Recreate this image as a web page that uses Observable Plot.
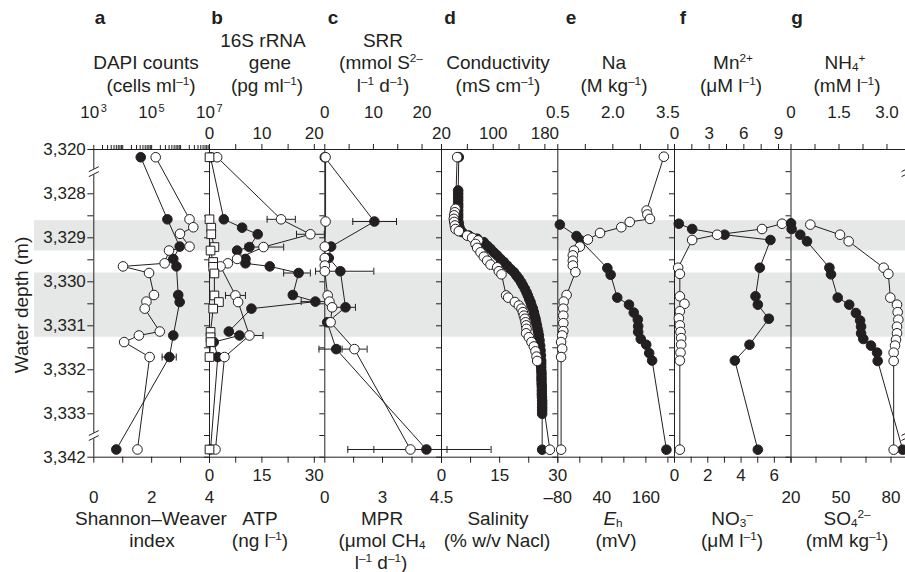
<!DOCTYPE html>
<html>
<head>
<meta charset="utf-8">
<script src="https://cdn.jsdelivr.net/npm/d3@7"></script>
<script src="https://cdn.jsdelivr.net/npm/@observablehq/plot@0.6"></script>
<style>
  html, body { margin: 0; padding: 0; background: #fff; }
  #chart { position: relative; width: 905px; height: 572px; overflow: hidden; background: #fff;
           font-family: "Liberation Sans", Arial, Helvetica, sans-serif; color: #231f20; }
  #chart svg { position: absolute; left: 0; top: 0; background: transparent !important; overflow: visible; }
  .lbl { position: absolute; white-space: nowrap; font-size: 19px; line-height: 1; transform: translate(-50%, -50%); }
  .let { font-weight: bold; }
  .lbl sup { font-size: 0.62em; vertical-align: 0.55em; line-height: 0; }
  .lbl sub { font-size: 0.62em; vertical-align: -0.25em; line-height: 0; }
</style>
</head>
<body>
<div id="chart"></div>
<script>
// ---------------- data ----------------
const depthLabelTicks = [3320, 3328, 3329, 3330, 3331, 3332, 3333, 3342];
const depthMinorTicks = [3328.5, 3329.5, 3330.5, 3331.5, 3332.5];
const depthBreaks = [3324, 3337.5];
const bands = [[3328.61, 3329.30], [3329.80, 3331.26]];

// [depth (m), value]
const dapiCounts = [[3321.4, 4.2e4], [3328.58, 3.5e5], [3329.2, 9.3e5], [3329.48, 5.6e5], [3329.65, 7.2e5],
  [3330.3, 8.3e5], [3330.46, 9.3e5], [3331.22, 5.6e5], [3331.71, 4.1e5], [3340.4, 6.0e3]];
const dapiErr = [[3331.71, 2.3e5, 7.1e5]];
const shannonIndex = [[3321.4, 2.14], [3328.58, 3.31], [3328.76, 3.44], [3328.91, 2.98], [3329.2, 3.31],
  [3329.29, 2.6], [3329.58, 2.45], [3329.65, 1.01], [3329.8, 1.91], [3330.3, 2.08], [3330.45, 1.82],
  [3330.61, 1.76], [3331.13, 2.28], [3331.22, 1.56], [3331.37, 1.05], [3331.71, 1.93], [3340.4, 1.51]];

const rrnaFilled = [[3321.4, 0.2], [3328.58, 2.73], [3328.77, 6.22], [3328.92, 9.2], [3329.21, 7.62],
  [3329.29, 5.27], [3329.48, 6.86], [3329.58, 6.86], [3329.65, 11.5], [3329.8, 17.0], [3330.3, 15.9],
  [3330.45, 20.2], [3330.61, 8.0], [3331.13, 3.68], [3331.22, 5.72], [3331.37, 0.82], [3331.71, 1.58], [3340.4, 0.2]];
const rrnaFilledErr = [[3329.8, 14.15, 19.24], [3330.45, 17.5, 22.5]];
const rrnaOpen = [[3321.4, 1.46], [3328.58, 13.65], [3328.92, 19.24], [3329.21, 10.3], [3329.48, 5.27],
  [3329.58, 3.5], [3329.65, 2.1], [3330.31, 4.95], [3330.46, 5.46], [3331.22, 7.62], [3331.71, 2.86], [3340.4, 1.14]];
const rrnaOpenErr = [[3328.58, 10.99, 16.38], [3328.92, 16.6, 21.9], [3329.21, 6.8, 14.15],
  [3330.31, 3.05, 6.86], [3331.22, 5.59, 10.2]];
const atp = [[3321.4, 0], [3328.58, 0], [3328.77, 0.5], [3328.92, 0.5], [3329.21, 1.4], [3329.29, 0.3],
  [3329.55, 1.05], [3329.66, 1.05], [3329.81, 1.4], [3330.31, 1.4], [3330.46, 2.7], [3330.61, 1.05],
  [3331.14, 0.3], [3331.26, 0.3], [3331.37, 0.3], [3331.71, 0], [3340.4, 0]];

const srr = [[3321.4, 0], [3328.63, 10.2], [3329.2, 1.3], [3329.46, 0.82], [3329.76, 3.2], [3330.58, 4.26],
  [3330.92, 0.5], [3331.53, 2.34], [3340.4, 20.9]];
const srrErr = [[3328.63, 5.76, 14.75], [3329.76, -1.9, 10.08], [3330.58, 2.2, 6.3], [3331.53, -1.2, 3.2], [3340.4, 4.73, 34.2]];
const mpr = [[3321.4, 0.04], [3328.63, 0.04], [3329.2, 0], [3329.46, 0], [3329.63, 0], [3329.76, 0],
  [3330.31, 0.15], [3330.45, 0.24], [3330.58, 0.38], [3330.92, 0.3], [3331.53, 1.54], [3340.4, 3.71]];
const mprErr = [[3331.53, 0.9, 2.2], [3340.4, 2.55, 4.64]];

const conductivity = [[3321.38, 46.8], [3327.4, 45.8], [3328.0, 45.8], [3328.08, 45.8], [3328.15, 45.8],
  [3328.23, 45.8], [3328.3, 45.8], [3328.38, 45.8], [3328.46, 45.8], [3328.53, 45.8], [3328.61, 45.8],
  [3328.68, 46.8], [3328.77, 47.9], [3328.87, 52.0], [3328.95, 62.3], [3329.02, 75.2], [3329.1, 85.5],
  [3329.18, 90.7], [3329.25, 95.9], [3329.33, 101.0], [3329.4, 106.2], [3329.48, 111.3], [3329.55, 116.5],
  [3329.63, 121.7], [3329.71, 126.8], [3329.78, 132.0], [3329.86, 136.1], [3329.93, 139.7], [3330.01, 143.3],
  [3330.08, 145.9], [3330.16, 149.0], [3330.24, 151.6], [3330.31, 153.6], [3330.39, 155.7], [3330.46, 157.8],
  [3330.54, 159.3], [3330.61, 161.4], [3330.69, 162.9], [3330.77, 164.0], [3330.84, 165.5], [3330.92, 166.5],
  [3330.99, 167.6], [3331.07, 168.6], [3331.14, 169.6], [3331.22, 170.7], [3331.33, 171.7], [3331.45, 172.7],
  [3331.56, 173.3], [3331.67, 173.8], [3331.79, 174.3], [3331.86, 174.3], [3331.94, 174.3], [3332.02, 174.5],
  [3332.09, 174.8], [3332.17, 174.8], [3332.24, 174.8], [3332.32, 175.0], [3332.39, 175.3], [3332.47, 175.3],
  [3332.55, 175.3], [3332.62, 175.5], [3332.7, 175.8], [3332.77, 175.8], [3332.85, 175.8], [3332.92, 175.8],
  [3333.0, 175.8], [3340.45, 175.8]];
const salinity = [[3321.38, 4.04], [3328.34, 3.61], [3328.42, 3.44], [3328.49, 3.27], [3328.57, 3.18],
  [3328.64, 3.27], [3328.72, 3.44], [3328.8, 3.61], [3328.85, 4.47], [3328.95, 6.62], [3329.0, 7.91],
  [3329.06, 9.46], [3329.14, 8.77], [3329.23, 9.2], [3329.33, 10.06], [3329.43, 10.92], [3329.52, 11.78],
  [3329.61, 12.64], [3329.67, 14.36], [3329.76, 14.79], [3329.83, 15.48], [3330.31, 16.68], [3330.36, 17.2],
  [3330.46, 18.92], [3330.54, 19.95], [3330.61, 20.64], [3330.69, 20.98], [3330.77, 21.24], [3330.84, 21.5],
  [3330.92, 21.67], [3330.99, 21.84], [3331.07, 21.93], [3331.17, 21.84], [3331.26, 22.53], [3331.37, 23.22],
  [3331.47, 23.82], [3331.58, 24.25], [3331.7, 24.51], [3331.8, 24.68], [3340.45, 27.95]];

const sodium = [[3328.7, 0.555], [3328.96, 1.01], [3329.06, 1.12], [3329.69, 1.85], [3329.84, 1.94],
  [3330.36, 2.12], [3330.52, 2.44], [3330.7, 2.57], [3330.86, 2.68], [3331.01, 2.69], [3331.14, 2.69],
  [3331.3, 2.76], [3331.43, 2.91], [3331.62, 2.99], [3331.79, 3.07], [3340.44, 3.46]];
const redox = [[3321.3, 209], [3328.38, 162], [3328.47, 164], [3328.57, 171], [3328.64, 116], [3328.76, 93],
  [3328.89, 35], [3329.04, 2], [3329.2, -20], [3329.29, -36], [3329.4, -39], [3329.52, -39], [3329.63, -39],
  [3329.78, -32], [3330.3, -56], [3330.45, -64], [3330.61, -65], [3330.77, -65], [3330.94, -65], [3331.12, -65],
  [3331.22, -68], [3331.37, -71], [3331.52, -68], [3331.71, -71], [3340.44, -71]];

const manganese = [[3328.68, 0.37], [3328.8, 1.53], [3328.93, 4.33], [3329.05, 8.3], [3329.68, 7.38],
  [3330.33, 7.01], [3330.52, 7.21], [3330.84, 8.16], [3331.43, 6.49], [3331.79, 5.22], [3340.44, 7.21]];
const nitrate = [[3328.68, 6.46], [3328.8, 5.26], [3328.93, 2.56], [3329.05, 1.06], [3329.68, 0.22],
  [3329.82, 0.32], [3330.33, 0.32], [3330.5, 0.6], [3330.67, 0.32], [3330.83, 0.26], [3330.99, 0.32],
  [3331.14, 0.36], [3331.28, 0.4], [3331.43, 0.4], [3331.61, 0.36], [3331.79, 0.32], [3340.44, 0.32]];

const ammonium = [[3328.67, 0], [3328.8, 0.02], [3328.93, 0.29], [3329.08, 0.5], [3329.68, 1.2], [3329.83, 1.25],
  [3330.36, 1.46], [3330.52, 1.82], [3330.71, 2.03], [3330.88, 2.16], [3331.02, 2.19], [3331.17, 2.19],
  [3331.3, 2.26], [3331.45, 2.5], [3331.61, 2.69], [3331.8, 2.71], [3340.44, 3.49]];
const sulfate = [[3328.7, 31.6], [3328.93, 49.4], [3329.08, 54.6], [3329.68, 75.6], [3329.82, 78.4],
  [3330.36, 79.6], [3330.52, 83.6], [3330.69, 84.0], [3330.86, 84.4], [3331.02, 83.6], [3331.17, 83.6],
  [3331.32, 83.0], [3331.45, 82.4], [3331.61, 81.6], [3331.8, 81.6], [3340.44, 81.6]];

// tick values / labels
const dapiTicks = [3, 4, 5, 6].flatMap(k => [1, 2, 3, 4, 5, 6, 7, 8, 9].map(m => m * 10 ** k)).concat([1e7]);
const dapiExponents = [3, 5, 7];

const letters = ["a", "b", "c", "d", "e", "f", "g"];
const topTitles = [
  ["", "DAPI counts", "(cells ml<sup>–1</sup>)"],
  ["16S rRNA", "gene", "(pg ml<sup>–1</sup>)"],
  ["SRR", "(mmol S<sup>2–</sup>", "l<sup>–1</sup> d<sup>–1</sup>)"],
  ["", "Conductivity", "(mS cm<sup>–1</sup>)"],
  ["", "Na", "(M kg<sup>–1</sup>)"],
  ["", "Mn<sup>2+</sup>", "(μM l<sup>–1</sup>)"],
  ["", "NH<sub>4</sub><sup>+</sup>", "(mM l<sup>–1</sup>)"]
];
const bottomTitles = [
  ["Shannon–Weaver", "index", ""],
  ["ATP", "(ng l<sup>–1</sup>)", ""],
  ["MPR", "(μmol CH<sub>4</sub>", "l<sup>–1</sup> d<sup>–1</sup>)"],
  ["Salinity", "(% w/v Nacl)", ""],
  ["<i>E</i><sub>h</sub>", "(mV)", ""],
  ["NO<sub>3</sub><sup>–</sup>", "(μM l<sup>–1</sup>)", ""],
  ["SO<sub>4</sub><sup>2–</sup>", "(mM kg<sup>–1</sup>)", ""]
];
const yTitle = "Water depth (m)";

// ---------------- layout ----------------
const INK = "#231f20", BAND = "#e6e7e7", W = 905, H = 572;
const FONT = "'Liberation Sans', Arial, Helvetica, sans-serif";
const Y_DOMAIN = [3320, 3328, 3333, 3342];
const Y_RANGE = [149, 193.3, 413.3, 456.7];
const num = d => String(d);
const fixed1 = d => d === 0 ? "0" : d.toFixed(1);
const dash = d => d < 0 ? "–" + (-d) : String(d);

const panels = [
  {left: 93.3, right: 209,
   top: {x: {type: "log", domain: [1e3, 1e7]}, ticks: dapiTicks, labels: [], fmt: num, row: 1, log: true,
         series: [{data: dapiCounts, fill: INK, err: dapiErr}]},
   bottom: {x: {type: "linear", domain: [0, 4]}, ticks: [0, 1, 2, 3, 4], labels: [0, 2, 4], fmt: num, row: 2,
         series: [{data: shannonIndex, fill: "white"}]}},
  {left: 209, right: 324.3,
   top: {x: {type: "linear", domain: [0, 22]}, ticks: [0, 5, 10, 15, 20], labels: [0, 10, 20], fmt: num, row: 2,
         series: [{data: rrnaFilled, fill: INK, err: rrnaFilledErr}, {data: rrnaOpen, fill: "white", err: rrnaOpenErr}]},
   bottom: {x: {type: "linear", domain: [0, 33]}, ticks: [0, 7.5, 15, 22.5, 30], labels: [0, 15, 30], fmt: num, row: 1,
         series: [{data: atp, fill: "white", symbol: "square"}]}},
  {left: 324.3, right: 441,
   top: {x: {type: "linear", domain: [0, 24]}, ticks: [0, 5, 10, 15, 20], labels: [0, 10, 20], fmt: num, row: 1,
         series: [{data: srr, fill: INK, err: srrErr}]},
   bottom: {x: {type: "linear", domain: [0, 3, 4.5], range: [324.3, 382, 441]}, ticks: [0, 1.5, 3, 3.75, 4.5], labels: [0, 3, 4.5], fmt: num, row: 2,
         series: [{data: mpr, fill: "white", err: mprErr}]}},
  {left: 441, right: 557.3,
   top: {x: {type: "linear", domain: [20, 200]}, ticks: [20, 60, 100, 140, 180], labels: [20, 100, 180], fmt: num, row: 2,
         series: [{data: conductivity, fill: INK}]},
   bottom: {x: {type: "linear", domain: [0, 30]}, ticks: [0, 7.5, 15, 22.5, 30], labels: [0, 15, 30], fmt: num, row: 1,
         series: [{data: salinity, fill: "white"}]}},
  {left: 557.3, right: 674,
   top: {x: {type: "linear", domain: [0.5, 3.68]}, ticks: [0.5, 1.25, 2, 2.75, 3.5], labels: [0.5, 2, 3.5], fmt: fixed1, row: 1,
         series: [{data: sodium, fill: INK}]},
   bottom: {x: {type: "linear", domain: [-80, 238]}, ticks: [-80, -20, 40, 100, 160, 220], labels: [-80, 40, 160], fmt: dash, row: 2,
         series: [{data: redox, fill: "white"}]}},
  {left: 674, right: 790.5,
   top: {x: {type: "linear", domain: [0, 10.08]}, ticks: [0, 1.5, 3, 4.5, 6, 7.5, 9], labels: [0, 3, 6, 9], fmt: num, row: 2,
         series: [{data: manganese, fill: INK}]},
   bottom: {x: {type: "linear", domain: [0, 7]}, ticks: [0, 1, 2, 3, 4, 5, 6, 7], labels: [0, 2, 4, 6], fmt: num, row: 1,
         series: [{data: nitrate, fill: "white"}]}},
  {left: 790.5, right: 906,
   top: {x: {type: "linear", domain: [0, 3.61]}, ticks: [0, 0.75, 1.5, 2.25, 3], labels: [0, 1.5, 3], fmt: fixed1, row: 1,
         series: [{data: ammonium, fill: INK}]},
   bottom: {x: {type: "linear", domain: [20, 89.3]}, ticks: [20, 35, 50, 65, 80], labels: [20, 50, 80], fmt: num, row: 2,
         series: [{data: sulfate, fill: "white"}]}}
];

const letterX = [100, 217, 333, 450, 571, 683, 797];
const topX = [[263, 146, 151], [263, 270, 267], [383, 381, 383], [0, 498, 498], [0, 614, 614], [0, 733, 731], [0, 845, 847]];
const topY = [40, 62, 85];
const bottomX = [[151, 152, 0], [260, 260, 0], [382, 382, 381], [498, 497, 0], [613, 616, 0], [732, 732, 0], [847, 847, 0]];
const bottomY = [518, 540, 562];

// ---------------- drawing ----------------
const chart = document.getElementById("chart");
const style = {background: "transparent", fontFamily: FONT, fontSize: "17px", color: INK, overflow: "visible"};
const yScale = (withAxis) => withAxis
  ? {type: "linear", domain: Y_DOMAIN, range: Y_RANGE}
  : {type: "linear", domain: Y_DOMAIN, range: Y_RANGE, axis: null};

const capSymbol = {draw(ctx) { ctx.moveTo(0, -3.5); ctx.lineTo(0, 3.5); }};
const breakMask = {draw(ctx) { ctx.moveTo(-5, 0); ctx.lineTo(5, -5); ctx.lineTo(5, 0); ctx.lineTo(-5, 5); ctx.closePath(); }};
const breakLines = {draw(ctx) { ctx.moveTo(-5, 0); ctx.lineTo(5, -5); ctx.moveTo(-5, 5); ctx.lineTo(5, 0); }};

// grey bands
chart.appendChild(Plot.plot({
  width: W, height: H, marginLeft: 34, marginRight: 0, marginTop: Y_RANGE[0], marginBottom: H - Y_RANGE[3],
  y: yScale(false),
  style,
  marks: [Plot.rect(bands, {y1: d => d[0], y2: d => d[1], fill: BAND})]
}));

function seriesMarks(s) {
  const ch = {x: d => d[1], y: d => d[0]};
  const m = [Plot.line(s.data, {...ch, stroke: INK, strokeWidth: 1})];
  if (s.err) {
    m.push(Plot.ruleY(s.err, {y: d => d[0], x1: d => d[1], x2: d => d[2], stroke: INK, strokeWidth: 1}));
    m.push(Plot.dot(s.err.flatMap(e => [[e[0], e[1]], [e[0], e[2]]]), {...ch, symbol: capSymbol, r: 3, fill: "none", stroke: INK, strokeWidth: 1}));
  }
  m.push(Plot.dot(s.data, {...ch, r: s.symbol === "square" ? 4.9 : 4.8, symbol: s.symbol || "circle",
    fill: s.fill, stroke: INK, strokeWidth: 1}));
  return m;
}

panels.forEach((p, i) => {
  ["top", "bottom"].forEach(side => {
    const a = p[side];
    const isTop = side === "top";
    const marks = [];
    if (isTop) {
      marks.push(Plot.ruleY([3320, 3342], {stroke: INK, strokeWidth: 1}));
      marks.push(Plot.ruleX([a.x.domain[0]], {stroke: INK, strokeWidth: 1}));
      const yt = i === 0 ? depthLabelTicks.concat(depthMinorTicks) : depthLabelTicks.concat(depthMinorTicks, depthBreaks);
      marks.push(Plot.axisY({anchor: "left", ticks: yt, tickSize: i === 0 ? 6 : 5, tickPadding: 2, label: null,
        tickFormat: i === 0 ? (d => depthLabelTicks.includes(d) ? d3.format(",")(d) : "") : (() => "")}));
    }
    marks.push(Plot.axisX({anchor: side, ticks: a.ticks, tickSize: a.log ? 5 : 6, label: null,
      tickPadding: isTop ? (a.row === 1 ? 26 : 5) : (a.row === 1 ? 6 : 28),
      tickFormat: d => a.labels.includes(d) ? a.fmt(d) : ""}));
    if (a.log) {
      // "10" with a raised exponent for the decade labels
      marks.push(Plot.text(dapiExponents, {x: e => 10 ** e, text: () => "10", frameAnchor: "top", lineAnchor: "bottom",
        dy: -32, dx: -4, fontSize: 17, fill: INK}));
      marks.push(Plot.text(dapiExponents, {x: e => 10 ** e, text: e => String(e), frameAnchor: "top", lineAnchor: "bottom",
        dy: -38, dx: 10, fontSize: 11, fill: INK}));
    }
    a.series.forEach(s => marks.push(...seriesMarks(s)));
    if (isTop && (i === 0 || i === 6)) {
      const bx = i === 0 ? a.x.domain[0] : a.x.domain[a.x.domain.length - 1];
      marks.push(Plot.dot(depthBreaks, {x: () => bx, y: d => d, symbol: breakMask, r: 5, fill: "white", stroke: "white", strokeWidth: 1}));
      marks.push(Plot.dot(depthBreaks, {x: () => bx, y: d => d, symbol: breakLines, r: 5, fill: "none", stroke: INK, strokeWidth: 1}));
    }
    const svg = Plot.plot({
      width: W, height: H,
      marginLeft: p.left, marginRight: W - p.right, marginTop: Y_RANGE[0], marginBottom: H - Y_RANGE[3],
      x: {...a.x, range: a.x.range || [p.left, p.right]},
      y: yScale(isTop),
      style,
      marks
    });
    chart.appendChild(svg);
  });
});

// ---------------- text ----------------
function label(x, y, html, cls = "") {
  const d = document.createElement("div");
  d.className = "lbl " + cls;
  d.style.left = x + "px";
  d.style.top = y + "px";
  d.innerHTML = html;
  chart.appendChild(d);
  return d;
}
letters.forEach((t, i) => label(letterX[i], 17, t, "let"));
topTitles.forEach((lines, i) => lines.forEach((t, j) => { if (t) label(topX[i][j], topY[j], t); }));
bottomTitles.forEach((lines, i) => lines.forEach((t, j) => { if (t) label(bottomX[i][j], bottomY[j], t); }));
const yl = label(21, 305, yTitle);
yl.style.transform = "translate(-50%, -50%) rotate(-90deg)";
</script>
</body>
</html>
